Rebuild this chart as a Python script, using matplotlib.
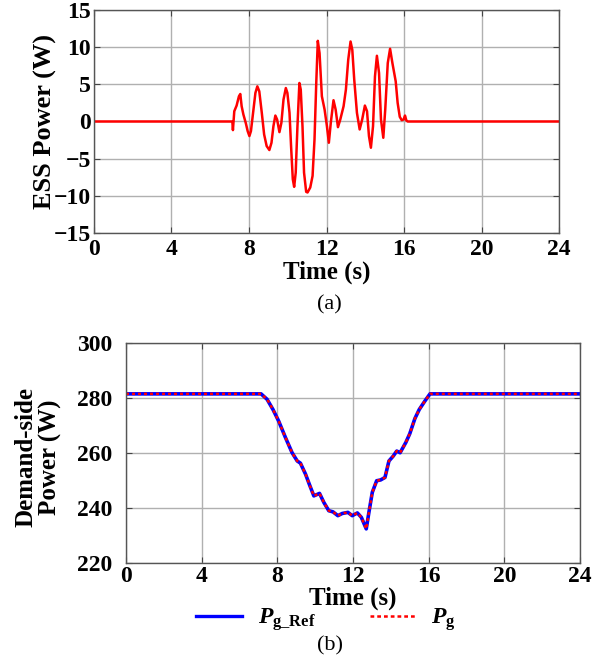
import numpy as np
import matplotlib.pyplot as plt
from matplotlib.lines import Line2D

# ESS power trace (a)
ess_t = [0, 7.14, 7.17, 7.24, 7.36, 7.48, 7.55, 7.62, 7.71, 7.84, 7.93, 8.02, 8.1, 8.22, 8.33,
         8.43, 8.53, 8.66, 8.78, 8.91, 9.05, 9.16, 9.26, 9.36, 9.45, 9.57, 9.67, 9.78, 9.9,
         9.98, 10.09, 10.17, 10.26, 10.33, 10.41, 10.5, 10.6, 10.67, 10.76, 10.84, 10.95, 11.02,
         11.16, 11.28, 11.38, 11.47, 11.55, 11.64, 11.76, 11.9, 12.02, 12.12, 12.22, 12.36, 12.47,
         12.59, 12.71, 12.88, 13.0, 13.12, 13.24, 13.33, 13.43, 13.57, 13.71, 13.84, 13.98, 14.09,
         14.19, 14.29, 14.4, 14.5, 14.6, 14.71, 14.81, 14.93, 15.03, 15.16, 15.28, 15.4, 15.57,
         15.67, 15.78, 15.88, 15.98, 16.05, 16.12, 16.19, 24]
ess_p = [0, 0, -1.16, 1.38, 2.14, 3.39, 3.7, 2.05, 0.94, -0.27, -1.29, -1.96, -1.29, 1.38, 3.84,
         4.73, 4.06, 1.16, -1.74, -3.3, -3.84, -2.86, -0.63, 0.8, 0.27, -1.43, -0.18, 2.95, 4.5,
         3.84, 1.16, -3.3, -7.77, -8.79, -6.88, -0.63, 5.18, 4.29, -0.63, -6.88, -9.46, -9.55,
         -8.88, -7.32, -2.41, 5.18, 10.85, 9.2, 3.39, 1.61, -0.63, -2.86, -0.18, 2.86, 1.61,
         -0.76, 0.27, 2.05, 4.29, 8.3, 10.76, 9.64, 5.63, 1.16, -1.07, 0.27, 2.14, 1.38,
         -1.96, -3.53, -0.63, 6.07, 8.84, 6.52, 0.27, -2.19, 1.61, 7.86, 9.78, 7.86, 5.4,
         2.5, 0.63, 0.18, 0.27, 0.8, 0.13, 0, 0]

# demand-side power (b)
pg_t = [0, 7.14, 7.46, 7.77, 8.07, 8.43, 8.78, 9.05, 9.22, 9.49, 9.72, 9.93, 10.23, 10.46, 10.72,
        10.94, 11.2, 11.43, 11.73, 11.96, 12.23, 12.44, 12.7, 12.84, 13.02, 13.25, 13.46, 13.69,
        13.9, 14.13, 14.31, 14.49, 14.79, 15.0, 15.27, 15.5, 15.8, 16.07, 24]
pg_ref = [281.5, 281.5, 279.5, 275.8, 271.6, 265.6, 260.1, 257.1, 256.3, 252.3, 248.1, 244.4, 245.3,
          242.0, 239.0, 238.6, 237.2, 238.0, 238.4, 237.2, 238.2, 236.6, 232.4, 238.4, 245.7, 249.9,
          250.2, 251.1, 257.1, 258.9, 260.7, 260.1, 263.8, 267.0, 272.5, 275.8, 278.9, 281.5, 281.5]
pg = list(pg_ref)

xticks = [0, 4, 8, 12, 16, 20, 24]

plt.rcParams['font.family'] = 'Liberation Serif'
plt.rcParams['font.weight'] = 'bold'
plt.rcParams['mathtext.fontset'] = 'custom'
plt.rcParams['mathtext.rm'] = 'Liberation Serif:bold'
plt.rcParams['mathtext.it'] = 'Liberation Serif:bold:italic'
plt.rcParams['mathtext.bf'] = 'Liberation Serif:bold'

fig = plt.figure(figsize=(6.04, 6.61), dpi=100)

def style(ax, xpad, ypad):
    ax.grid(color='#b0b0b0', linewidth=1.0)
    ax.tick_params(direction='in', top=True, right=True, labelsize=17, length=4,
                   color='#444444')
    ax.tick_params(axis='x', pad=xpad)
    ax.tick_params(axis='y', pad=ypad)
    for s in ax.spines.values():
        s.set_color('#555555')
        s.set_linewidth(1.0)
    ax.set_axisbelow(True)

ax1 = fig.add_axes([0.1556, 0.6475, 0.770, 0.3374])
ax1.plot(ess_t, ess_p, color='red', linewidth=1.8)
ax1.set_xlim(0, 24)
ax1.set_ylim(-15, 15)
ax1.set_xticks(xticks)
ax1.set_yticks(range(-15, 16, 5))
style(ax1, 4, 2)
ax1.set_xlabel('Time (s)', fontsize=18, fontweight='bold')
ax1.xaxis.set_label_coords(0.5, -0.175)
ax1.xaxis.label.set_va('center')
ax1.set_ylabel('ESS Power (W)', fontsize=19, fontweight='bold')
ax1.yaxis.set_label_coords(-0.105, 0.5)
ax1.yaxis.label.set_va('center')
fig.text(0.546, 1 - 305 / 661, '(a)', ha='center', va='center', fontsize=16,
         fontweight='normal')

ax2 = fig.add_axes([0.2086, 0.1483, 0.7517, 0.3328])
ax2.plot(pg_t, pg_ref, color='blue', linewidth=2.6)
ax2.plot(pg_t, pg, color='red', linewidth=1.8, linestyle=(0, (1.2, 1.2)))
ax2.set_xlim(0, 24)
ax2.set_ylim(220, 300)
ax2.set_xticks(xticks)
ax2.set_yticks(range(220, 301, 20))
style(ax2, 2, 10)
ax2.set_xlabel('Time (s)', fontsize=18, fontweight='bold')
ax2.xaxis.set_label_coords(0.5, -0.16)
ax2.xaxis.label.set_va('center')
ax2.set_ylabel('Demand-side\nPower (W)', fontsize=18, fontweight='bold', linespacing=1.1)
ax2.yaxis.set_label_coords(-0.193, 0.48)
ax2.yaxis.label.set_va('center')

handles = [Line2D([], [], color='blue', linewidth=2.4),
           Line2D([], [], color='red', linewidth=1.8, linestyle=(0, (1.5, 1.2)))]
labels = [r'$P_{\rm g\_Ref}$', r'$P_{\rm g}$']
fig.legend(handles, labels, loc='center', bbox_to_anchor=(0.54, 1 - 620 / 661), ncol=2,
           frameon=False, fontsize=17, handlelength=1.95, handletextpad=0.65,
           columnspacing=2.3)
fig.text(0.546, 1 - 646 / 661, '(b)', ha='center', va='center', fontsize=16,
         fontweight='normal')

fig.savefig('out.png', dpi=100)
